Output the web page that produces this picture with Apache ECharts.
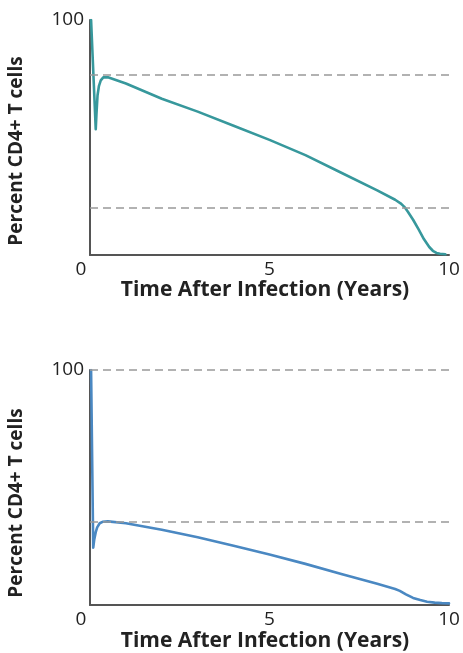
<!DOCTYPE html>
<html>
<head>
<meta charset="utf-8">
<script src="https://cdn.jsdelivr.net/npm/echarts@6/dist/echarts.min.js"></script>
<style>
  html, body { margin: 0; padding: 0; background: #fff; }
  #main { width: 463px; height: 653px; }
</style>
</head>
<body>
<div id="main"></div>
<script>
// years after infection / percent CD4+ T cells
var topCurve = [
  [0.03, 100], [0.16, 53.5], [0.18, 60], [0.21, 68], [0.25, 72], [0.3, 74.3],
  [0.37, 75.6], [0.5, 75.6], [1, 73], [2, 66.5], [3, 61], [4, 55], [5, 49],
  [6, 42.5], [7, 35], [8, 27.5], [8.5, 23.5], [8.65, 22], [8.75, 20.6],
  [8.85, 18.5], [9, 15], [9.15, 11], [9.3, 6.8], [9.45, 3.4], [9.55, 1.8],
  [9.65, 0.9], [9.75, 0.5], [9.9, 0.3]
];
var bottomCurve = [
  [0.03, 100], [0.09, 24.4], [0.12, 28], [0.16, 31], [0.2, 33], [0.27, 34.8],
  [0.35, 35.4], [0.5, 35.6], [1, 34.8], [2, 32], [3, 28.8], [4, 25.2],
  [5, 21.5], [6, 17.5], [7, 13.2], [8, 9], [8.5, 6.8], [8.63, 6], [8.8, 4.5],
  [9, 3], [9.2, 2.1], [9.39, 1.4], [9.6, 1], [9.8, 0.8], [10, 0.7]
];
var topRefLines = [76.6, 20.1];
var bottomRefLines = [100, 35.4];
var xTicks = [0, 5, 10];
var yTicks = [100];

var chart = echarts.init(document.getElementById('main'), null, { renderer: 'canvas' });

var font = '"Open Sans", "Noto Sans", sans-serif';

function xAxisFor(gridIndex) {
  return {
    type: 'value',
    gridIndex: gridIndex,
    min: 0,
    max: 10,
    interval: 5,
    axisLine: { lineStyle: { color: '#555', width: 2 } },
    axisTick: { show: false },
    splitLine: { show: false },
    axisLabel: {
      margin: 5,
      fontSize: 19,
      fontFamily: font,
      color: '#222',
      formatter: function (v) {
        if (xTicks.indexOf(v) < 0) return '';
        return v === 0 ? '{z|0}' : String(v);
      },
      rich: { z: { fontSize: 19, fontFamily: font, color: '#222', padding: [0, 18, 0, 0] } }
    }
  };
}

function yAxisFor(gridIndex) {
  return {
    type: 'value',
    gridIndex: gridIndex,
    min: 0,
    max: 100,
    interval: 100,
    axisLine: { show: true, lineStyle: { color: '#555', width: 2 } },
    axisTick: { show: false },
    splitLine: { show: false },
    axisLabel: {
      margin: 6,
      fontSize: 19,
      fontFamily: font,
      color: '#222',
      formatter: function (v) { return yTicks.indexOf(v) >= 0 ? String(v) : ''; }
    }
  };
}

function refLines(values) {
  return {
    silent: true,
    symbol: 'none',
    label: { show: false },
    lineStyle: { color: '#999', type: [8, 5], width: 1.5 },
    data: values.map(function (v) { return { yAxis: v }; })
  };
}

function curve(idx, data, color, lines) {
  return {
    type: 'line',
    xAxisIndex: idx,
    yAxisIndex: idx,
    data: data,
    showSymbol: false,
    smooth: false,
    lineStyle: { color: color, width: 2.6, join: 'round', cap: 'round' },
    markLine: refLines(lines),
    z: 3
  };
}

function titleText(x, y, text, rotate, size) {
  return {
    type: 'text',
    x: x,
    y: y,
    rotation: rotate ? Math.PI / 2 : 0,
    style: {
      text: text,
      fontSize: size,
      fontWeight: 'bold',
      fontFamily: font,
      fill: '#222',
      align: 'center',
      verticalAlign: 'middle'
    }
  };
}

var option = {
  animation: false,
  backgroundColor: '#fff',
  grid: [
    { left: 90, top: 20, width: 359, height: 235 },
    { left: 90, top: 370, width: 359, height: 235 }
  ],
  xAxis: [xAxisFor(0), xAxisFor(1)],
  yAxis: [yAxisFor(0), yAxisFor(1)],
  series: [
    curve(0, topCurve, '#37989c', topRefLines),
    curve(1, bottomCurve, '#4a88c2', bottomRefLines)
  ],
  graphic: [
    titleText(17, 151, 'Percent CD4+ T cells', true, 19),
    titleText(17, 503, 'Percent CD4+ T cells', true, 19),
    titleText(265, 290, 'Time After Infection (Years)', false, 21),
    titleText(265, 641, 'Time After Infection (Years)', false, 21)
  ]
};

chart.setOption(option);
</script>
</body>
</html>
